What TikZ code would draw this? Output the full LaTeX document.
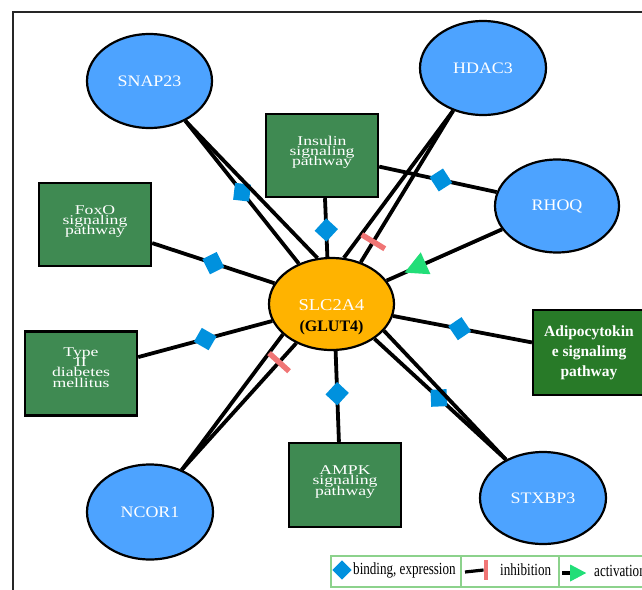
\documentclass[tikz,border=0pt]{standalone}
\usepackage{fontspec}
\setmainfont{Liberation Serif}
\newfontfamily\genefont[FakeStretch=1.12]{Liberation Serif}
\newfontfamily\boxfont[FakeStretch=1.32]{Liberation Serif}
\newfontfamily\legfont[FakeStretch=0.77]{Liberation Serif}
\newcommand\tightlinesx{\lineskiplimit=-50pt\relax}
\usetikzlibrary{shapes.geometric,backgrounds}
\definecolor{geneblue}{RGB}{77,163,255}
\definecolor{boxgreen}{RGB}{63,138,82}
\definecolor{adipogreen}{RGB}{40,122,40}
\definecolor{slcorange}{RGB}{255,179,0}
\definecolor{diamblue}{RGB}{0,145,222}
\definecolor{inhred}{RGB}{240,117,117}
\definecolor{actgreen}{RGB}{34,222,120}
\definecolor{legline}{RGB}{140,210,140}
\begin{document}
\begin{tikzpicture}[x=1pt,y=-1pt,
  gene/.style={ellipse, draw=black, line width=2.2pt, fill=geneblue, inner sep=0pt,
    text=white, font=\genefont\fontsize{16}{18}\selectfont},
  pathbox/.style={rectangle, draw=black, line width=2.4pt, fill=boxgreen, inner sep=0pt,
    minimum width=112pt, minimum height=83pt, text=white, align=center,
    font={\boxfont\fontsize{13.4}{10.3}\selectfont\tightlinesx}, text depth=9.2pt},
  edge/.style={draw=black, line width=3.8pt},
  dia/.style={rectangle, fill=diamblue, inner sep=0pt, minimum width=16pt, minimum height=17pt,
    sloped, allow upside down, rotate=45},
  inhbar/.style={rectangle, fill=inhred, inner sep=0pt, minimum width=5.5pt, minimum height=27pt,
    sloped, allow upside down},
  acttri/.style={isosceles triangle, isosceles triangle stretches, fill=actgreen, inner sep=0pt,
    minimum width=24pt, minimum height=23pt, sloped, allow upside down},
  legcell/.style={rectangle, draw=legline, line width=1.4pt, inner sep=0pt, minimum height=31pt},
  legtext/.style={inner sep=0pt, anchor=west, font=\legfont\fontsize{17}{18}\selectfont}
]
\useasboundingbox (0,0) rectangle (642,589);
\clip (0,0) rectangle (642,589);

% frame
\coordinate (fa) at (13,600);
\coordinate (fb) at (13,12);
\coordinate (fc) at (660,12);
\draw[line width=1.6pt, black!85] (fa) -- (fb) -- (fc);

% gene nodes
\node[gene, minimum width=125pt, minimum height=94pt] (snap) at (149.5,81) {SNAP23};
\node[gene, minimum width=126pt, minimum height=94pt] (hdac) at (483,68) {HDAC3};
\node[gene, minimum width=124pt, minimum height=93pt] (rhoq) at (557,206) {RHOQ};
\node[gene, minimum width=126pt, minimum height=95pt] (ncor) at (150,512) {NCOR1};
\node[gene, minimum width=126pt, minimum height=92pt] (stx) at (543,498) {STXBP3};

% central node
\node[ellipse, draw=black, line width=2.2pt, fill=slcorange, inner sep=0pt,
      minimum width=125pt, minimum height=92pt, align=center,
      font=\fontsize{16.5}{21}\selectfont, text height=57.8pt] (slc) at (331.5,304)
  {\textcolor{white}{\genefont SLC2A4}\\{\bfseries\fontsize{16}{21}\selectfont (GLUT4)}};

% pathway boxes
\node[pathbox] (ins) at (322,155.5) {Insulin\\signaling\\pathway};
\node[pathbox] (foxo) at (95,224.5) {FoxO\\signaling\\pathway};
\node[pathbox, minimum height=84pt, text depth=12.4pt] (type2) at (81,373.5) {Type\\II\\diabetes\\mellitus};
\node[pathbox, minimum height=84pt] (ampk) at (345,485) {AMPK\\signaling\\pathway};
\node[rectangle, draw=black, line width=2.2pt, fill=adipogreen, inner sep=0pt,
      minimum width=112pt, minimum height=85pt, text=white, align=center,
      font=\bfseries\fontsize{15.5}{20}\selectfont] (adipo) at (589,352.5)
  {Adipocytokin\\e signalimg\\pathway};

% connectors
\begin{scope}[on background layer]
\draw[edge] (snap.-48.5) -- node[dia, pos=0.5] {} (slc.129.3);
\draw[edge] (snap.-48.5) -- (slc.107.9);
\draw[edge] (hdac.235) -- (slc.75.7);
\draw[edge] (hdac.235) -- node[inhbar, pos=0.865] {} (slc.55.2);
\draw[edge] (ins.-86) -- node[dia, pos=0.54] {} (slc.95.6);
\draw[edge] (ins.-11.6) -- node[dia, pos=0.525] {} (rhoq.167);
\draw[edge] (rhoq.203) -- node[acttri, pos=0.72] {} (slc.23.4);
\draw[edge] (foxo.-18.3) -- node[dia, pos=0.5] {} (slc.160.8);
\draw[edge] (slc.-11) -- node[dia, pos=0.48] {} (adipo.170);
\draw[edge] (type2.16) -- node[dia, pos=0.5] {} (slc.196.8);
\draw[edge] (ampk.98) -- node[dia, pos=0.53] {} (slc.-85.6);
\draw[edge] (ncor.53) -- (slc.212);
\draw[edge] (ncor.53) -- node[inhbar, pos=0.85] {} (slc.228.5);
\draw[edge] (slc.-39.3) -- node[dia, pos=0.49] {} (stx.134);
\draw[edge] (slc.-27.6) -- (stx.134);
\end{scope}

% legend
\node[legcell, minimum width=130pt] (cell1) at (396,571.5) {};
\node[legcell, minimum width=98pt] (cell2) at (510,571.5) {};
\node[legcell, minimum width=100pt] (cell3) at (609,571.5) {};
\node[rectangle, fill=diamblue, inner sep=0pt, minimum size=13.5pt, rotate=45] (ldia) at (342,570) {};
\node[legtext] (lt1) at (353,570) {binding, expression};
\coordinate (linh) at (465,572);
\node[rectangle, fill=inhred, inner sep=0pt, minimum width=4.5pt, minimum height=20pt] (lbar) at (486,570) {};
\draw[line width=3.2pt] (linh) -- (lbar.west);
\node[legtext] (lt2) at (500,570) {inhibition};
\coordinate (lact) at (562,573);
\node[isosceles triangle, isosceles triangle stretches, fill=actgreen, inner sep=0pt,
      minimum width=17pt, minimum height=16pt, anchor=west] (ltri) at (570,573) {};
\draw[line width=3.2pt] (lact) -- (ltri.west);
\node[legtext] (lt3) at (594,571) {activation};
\end{tikzpicture}
\end{document}
